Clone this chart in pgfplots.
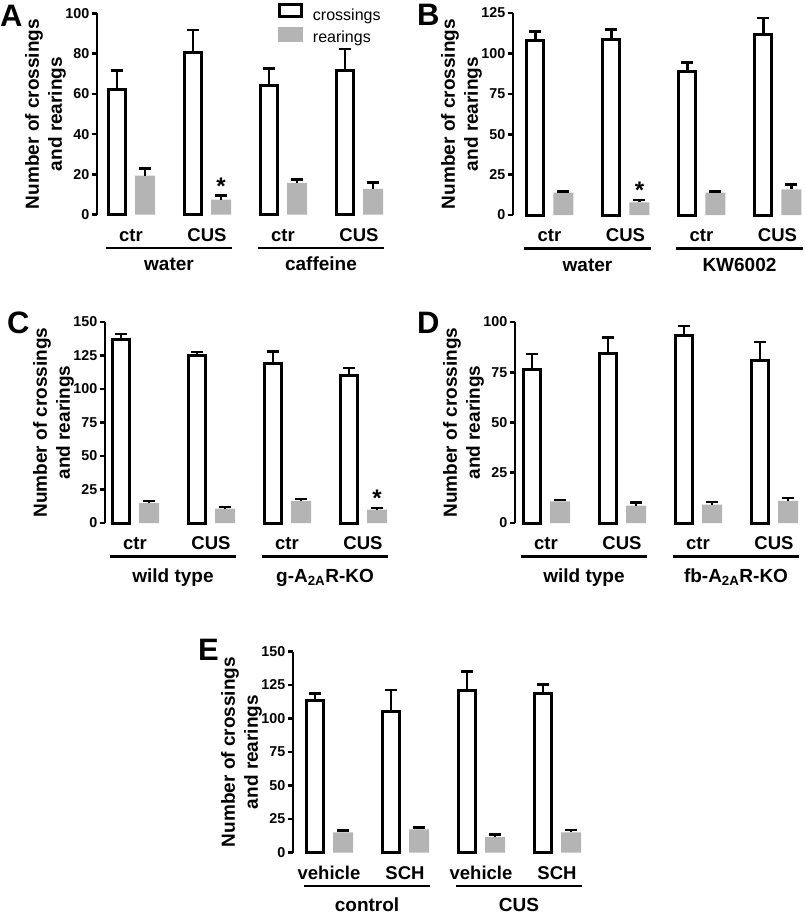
\documentclass[border=0pt]{standalone}
\usepackage{fontspec}
\setmainfont{Liberation Sans}
\usepackage{pgfplots}
\usepackage{pgfplotstable}
\pgfplotsset{compat=1.18}
\definecolor{reargray}{RGB}{180,180,180}

\pgfplotstableread{
x y e
1 62.3 9.4
2 80.7 11.0
3 64.1 8.6
4 71.6 10.7
}\Acr
\pgfplotstableread{
x y e
1 19.3 3.5
2 7.4 2.0
3 15.7 1.7
4 12.7 3.3
}\Are
\pgfplotstableread{
x y e
1 107.7 6.0
2 108.7 6.2
3 89.0 5.3
4 111.8 10.1
}\Bcr
\pgfplotstableread{
x y e
1 13.8 0.6
2 7.8 1.5
3 13.8 0.8
4 15.9 3.0
}\Bre
\pgfplotstableread{
x y e
1 136.6 4.3
2 125.3 2.4
3 119.0 9.0
4 110.4 5.2
}\Ccr
\pgfplotstableread{
x y e
1 14.9 1.7
2 10.7 1.2
3 16.6 1.5
4 9.9 1.3
}\Cre
\pgfplotstableread{
x y e
1 76.3 7.7
2 84.5 7.8
3 93.1 4.9
4 81.0 9.0
}\Dcr
\pgfplotstableread{
x y e
1 10.7 0.8
2 8.6 1.6
3 9.1 1.3
4 11.0 1.5
}\Dre
\pgfplotstableread{
x y e
1 113.4 5.4
2 105.2 16.1
3 120.8 14.3
4 118.3 6.9
}\Ecr
\pgfplotstableread{
x y e
1 15.1 1.2
2 17.3 1.5
3 11.4 2.0
4 15.1 1.7
}\Ere

\pgfplotsset{
  panel/.style={
    scale only axis,
    x=76pt,
    anchor=south west,
    axis lines=left,
    axis line style={-, line width=2.6pt},
    x axis line style={draw=none},
    xtick={1,2,3,4},
    xtick style={draw=none},
    major tick length=5.5pt,
    ytick style={line width=2.6pt, black},
    tick align=outside,
    xmax=4.45,
    ymin=0,
    clip=false,
    /pgf/number format/assume math mode=true,
    yticklabel={\pgfmathprintnumber{\tick}},
    yticklabel style={font=\bfseries\fontsize{14.3}{16}\selectfont, inner xsep=2pt},
    xticklabel style={font=\bfseries\fontsize{18.5}{20}\selectfont, anchor=base, yshift=-21pt},
    ylabel={Number of crossings\\and rearings},
    ylabel style={font=\bfseries\fontsize{19}{23}\selectfont, align=center, yshift=-6pt},
    ybar, bar width=17pt,
    error bars/y dir=plus, error bars/y explicit,
    error bars/error bar style={draw=black, line width=2.3pt},
    error bars/error mark options={draw=black, rotate=90, mark size=6pt, line width=2.5pt},
  },
  cross/.style={draw=black, fill=white, line width=3pt, bar shift=-14pt},
  rear/.style={draw=none, fill=reargray, bar width=20pt, bar shift=14pt},
}
\tikzset{
  grp/.style={font=\bfseries\fontsize{19}{21}\selectfont, anchor=base},
  star/.style={font=\bfseries\fontsize{24}{24}\selectfont, anchor=base, xshift=14pt, yshift=1.5pt},
  letter/.style={font=\bfseries\fontsize{31}{31}\selectfont, anchor=base west, inner sep=0pt},
}

\begin{document}
\begin{tikzpicture}
\useasboundingbox (0,0) rectangle (805pt,-915pt);

% ---------------- A
\begin{axis}[panel, at={(97pt,-214.5pt)}, y=2.01pt, xmin=0.5526, ymax=100,
  ytick={0,20,40,60,80,100}, xticklabels={ctr,CUS,ctr,CUS},
  legend style={at={(axis description cs:0.611,1.05)}, anchor=north west, draw=none, fill=none,
    inner sep=0pt, outer sep=0pt, row sep=2.3pt, column sep=10pt,
    font=\fontsize{16}{18}\selectfont, nodes={inner sep=0pt, text height=12pt, text depth=4pt}},
  legend cell align=left]
\addplot[cross, legend image code/.code={\draw[black, fill=white, line width=2.7pt] (1.35pt,0pt) rectangle (23.65pt,11.5pt);}]
  table[x=x, y=y, y error=e] {\Acr};
\addlegendentry{crossings}
\addplot[rear, legend image code/.code={\fill[reargray] (0pt,-3pt) rectangle (25pt,12pt);}]
  table[x=x, y=y, y error=e] {\Are};
\addlegendentry{rearings}
\draw[line width=2.7pt] ([yshift=-33.5pt]axis cs:0.67,0) -- ([yshift=-33.5pt]axis cs:2.33,0);
\draw[line width=2.7pt] ([yshift=-33.5pt]axis cs:2.67,0) -- ([yshift=-33.5pt]axis cs:4.33,0);
\node[grp] at ([yshift=-56pt]axis cs:1.5,0) {water};
\node[grp] at ([yshift=-56pt]axis cs:3.5,0) {caffeine};
\node[star] at (axis cs:2,9.4) {*};
\end{axis}
\node[letter] at (0pt,-27pt) {A};

% ---------------- B
\begin{axis}[panel, at={(513pt,-215pt)}, y=1.616pt, xmin=0.52, ymax=125,
  ytick={0,25,50,75,100,125}, xticklabels={ctr,CUS,ctr,CUS}]
\addplot[cross] table[x=x, y=y, y error=e] {\Bcr};
\addplot[rear] table[x=x, y=y, y error=e] {\Bre};
\draw[line width=2.7pt] ([yshift=-33.5pt]axis cs:0.67,0) -- ([yshift=-33.5pt]axis cs:2.33,0);
\draw[line width=2.7pt] ([yshift=-33.5pt]axis cs:2.67,0) -- ([yshift=-33.5pt]axis cs:4.33,0);
\node[grp] at ([yshift=-56pt]axis cs:1.5,0) {water};
\node[grp] at ([yshift=-56pt]axis cs:3.5,0) {KW6002};
\node[star] at (axis cs:2,9.3) {*};
\end{axis}
\node[letter] at (417pt,-26pt) {B};

% ---------------- C
\begin{axis}[panel, at={(105pt,-523pt)}, y=1.34pt, xmin=0.605, ymax=150,
  ytick={0,25,50,75,100,125,150}, xticklabels={ctr,CUS,ctr,CUS}]
\addplot[cross] table[x=x, y=y, y error=e] {\Ccr};
\addplot[rear] table[x=x, y=y, y error=e] {\Cre};
\draw[line width=2.7pt] ([yshift=-33.5pt]axis cs:0.67,0) -- ([yshift=-33.5pt]axis cs:2.33,0);
\draw[line width=2.7pt] ([yshift=-33.5pt]axis cs:2.67,0) -- ([yshift=-33.5pt]axis cs:4.33,0);
\node[grp] at ([yshift=-59pt]axis cs:1.5,0) {wild type};
\node[grp] at ([yshift=-59pt]axis cs:3.5,0) {g-A\textsubscript{2A}R-KO};
\node[star] at (axis cs:4,11.2) {*};
\end{axis}
\node[letter] at (7pt,-333pt) {C};

% ---------------- D
\begin{axis}[panel, at={(515pt,-523pt)}, y=2.01pt, xmin=0.592, ymax=100,
  ytick={0,25,50,75,100}, xticklabels={ctr,CUS,ctr,CUS}]
\addplot[cross] table[x=x, y=y, y error=e] {\Dcr};
\addplot[rear] table[x=x, y=y, y error=e] {\Dre};
\draw[line width=2.7pt] ([yshift=-33.5pt]axis cs:0.67,0) -- ([yshift=-33.5pt]axis cs:2.33,0);
\draw[line width=2.7pt] ([yshift=-33.5pt]axis cs:2.67,0) -- ([yshift=-33.5pt]axis cs:4.33,0);
\node[grp] at ([yshift=-59pt]axis cs:1.5,0) {wild type};
\node[grp] at ([yshift=-59pt]axis cs:3.5,0) {fb-A\textsubscript{2A}R-KO};
\end{axis}
\node[letter] at (417pt,-333pt) {D};

% ---------------- E
\begin{axis}[panel, at={(293pt,-852.5pt)}, y=1.34pt, xmin=0.526, ymax=150,
  ytick={0,25,50,75,100,125,150}, xticklabels={vehicle,SCH,vehicle,SCH}]
\addplot[cross] table[x=x, y=y, y error=e] {\Ecr};
\addplot[rear] table[x=x, y=y, y error=e] {\Ere};
\draw[line width=2.7pt] ([yshift=-33.5pt]axis cs:0.67,0) -- ([yshift=-33.5pt]axis cs:2.33,0);
\draw[line width=2.7pt] ([yshift=-33.5pt]axis cs:2.67,0) -- ([yshift=-33.5pt]axis cs:4.33,0);
\node[grp] at ([yshift=-59pt]axis cs:1.5,0) {control};
\node[grp] at ([yshift=-59pt]axis cs:3.5,0) {CUS};
\end{axis}
\node[letter] at (198pt,-660pt) {E};

\end{tikzpicture}
\end{document}
